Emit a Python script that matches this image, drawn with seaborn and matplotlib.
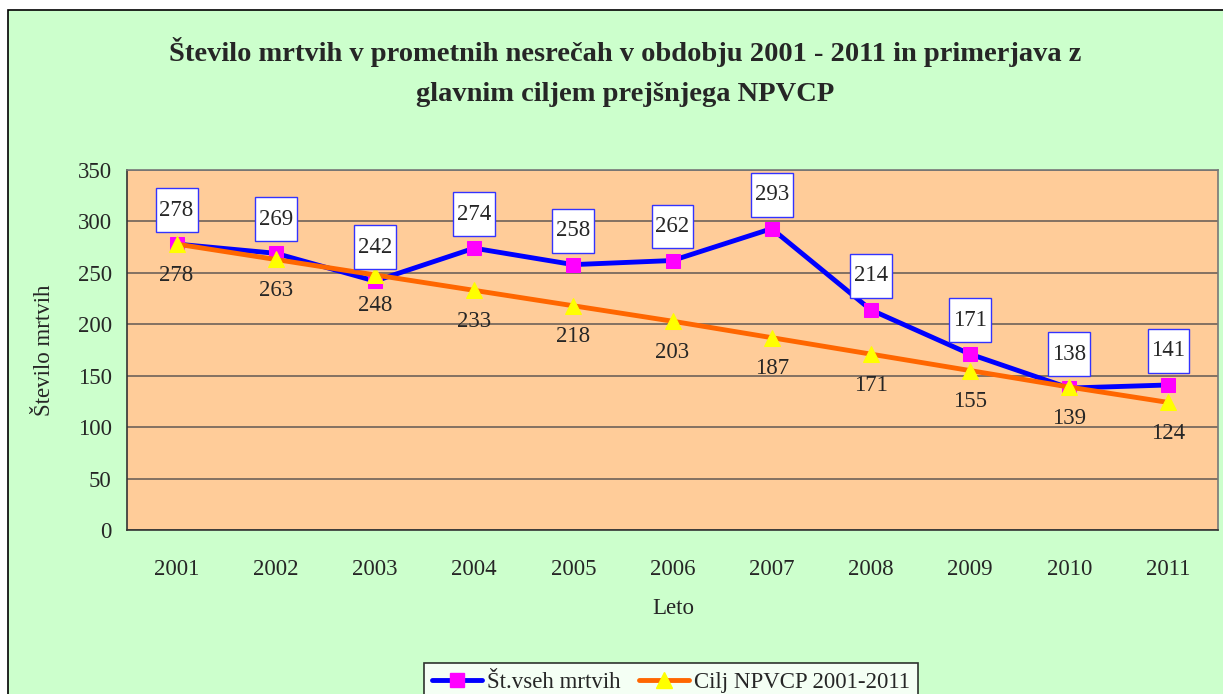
import matplotlib
matplotlib.use("Agg")
import matplotlib.pyplot as plt
import seaborn as sns
import numpy as np
import pandas as pd
from matplotlib.patches import Rectangle
from matplotlib.lines import Line2D
from matplotlib.path import Path

years = ["2001", "2002", "2003", "2004", "2005", "2006", "2007", "2008", "2009", "2010", "2011"]
deaths = [278, 269, 242, 274, 258, 262, 293, 214, 171, 138, 141]
target = [278, 263, 248, 233, 218, 203, 187, 171, 155, 139, 124]
series_names = ["Št.vseh mrtvih", "Cilj NPVCP 2001-2011"]
title = "Število mrtvih v prometnih nesrečah v obdobju 2001 - 2011 in primerjava z\nglavnim ciljem prejšnjega NPVCP"
yticks = [0, 50, 100, 150, 200, 250, 300, 350]

sns.set_style("white")
plt.rcParams['font.family'] = ['Liberation Serif', 'DejaVu Serif']

FS = 16.5


def label_box(x0, y0, width, height, mutation_size):
    px = 0.17 * mutation_size
    py = 0.5 * mutation_size
    x0, y0 = x0 - px, y0 - py
    x1, y1 = x0 + width + 2 * px, y0 + height + 2 * py
    return Path([(x0, y0), (x1, y0), (x1, y1), (x0, y1), (x0, y0)], closed=True)


W, H = 1223, 694
fig = plt.figure(figsize=(W / 100, H / 100), dpi=100)
fig.patch.set_facecolor("white")
fig.add_artist(Rectangle((8 / W, -0.05), 1.2, (H - 10) / H + 0.05, transform=fig.transFigure,
                         facecolor="#CCFFCC", edgecolor="black", linewidth=1.2, zorder=0))

left, right, top, bottom = 127, 1218, 170, 530
ax = fig.add_axes([left / W, (H - bottom) / H, (right - left) / W, (bottom - top) / H])
ax.set_facecolor("#FFCC99")

x = np.arange(len(years))
df = pd.DataFrame({"x": x, "deaths": deaths, "target": target})

sns.lineplot(data=df, x="x", y="target", ax=ax, color="#FF6600", linewidth=3.5,
             marker="^", markersize=11, markerfacecolor="#FFFF00", markeredgecolor="#FFFF00", zorder=4)
sns.lineplot(data=df, x="x", y="deaths", ax=ax, color="#0000FF", linewidth=3.5,
             marker="s", markersize=9.5, markerfacecolor="#FF00FF", markeredgecolor="#FF00FF", zorder=3)

for xi, v in zip(x, deaths):
    ax.annotate(str(v), (xi, v), xytext=(0, 34), textcoords="offset pixels",
                ha="center", va="center", fontsize=FS, zorder=6,
                bbox=dict(boxstyle=label_box, facecolor="white", edgecolor="#3333FF", linewidth=1))
for xi, v in zip(x, target):
    ax.annotate(str(v), (xi, v), xytext=(0, -31), textcoords="offset pixels",
                ha="center", va="center", fontsize=FS, zorder=6)

ax.set_xlim(-0.5, len(years) - 0.5)
ax.set_ylim(0, 350)
ax.set_yticks(yticks)
ax.set_yticklabels([str(t) for t in yticks], fontsize=FS)
ax.set_xticks(x)
ax.set_xticklabels(years, fontsize=FS)
ax.set_xticks(np.arange(-0.5, len(years), 1), minor=True)
ax.tick_params(axis="x", which="major", length=0, pad=21)
ax.tick_params(axis="x", which="minor", length=7, color="#555555", width=1.2, direction="out")
ax.tick_params(axis="y", which="major", length=7, color="#555555", width=1.2, direction="out", pad=4)
ax.yaxis.grid(True, color="#6E6259", linewidth=1.2)
ax.set_axisbelow(True)
for s in ax.spines.values():
    s.set_color("#777777")
    s.set_linewidth(1.2)
ax.spines["left"].set_color("#333333")
ax.spines["bottom"].set_color("#333333")

ax.set_xlabel("")
ax.set_ylabel("")
fig.text(45 / W, 1 - 350 / H, "Število mrtvih", rotation=90, ha="center", va="center", fontsize=FS)
fig.text(673 / W, 1 - 608 / H, "Leto", ha="center", va="center", fontsize=FS)
fig.text(625 / W, 1 - 72 / H, title, ha="center", va="center", fontsize=20.5,
         fontweight="bold", linespacing=1.75)

handles = [
    Line2D([0], [0], color="#0000FF", linewidth=3.5, marker="s", markersize=9.5,
           markerfacecolor="#FF00FF", markeredgecolor="#FF00FF"),
    Line2D([0], [0], color="#FF6600", linewidth=3.5, marker="^", markersize=11,
           markerfacecolor="#FFFF00", markeredgecolor="#FFFF00"),
]
leg = fig.legend(handles, series_names, loc="upper center", bbox_to_anchor=(671 / W, 1 - 652 / H),
                 ncol=2, frameon=True, fancybox=False, fontsize=FS, handlelength=2.2,
                 columnspacing=0.8, handletextpad=0.2, borderpad=0.35)
leg.get_frame().set_edgecolor("black")
leg.get_frame().set_linewidth(1.2)
leg.get_frame().set_facecolor("white")

fig.savefig("out.png", dpi=100)
